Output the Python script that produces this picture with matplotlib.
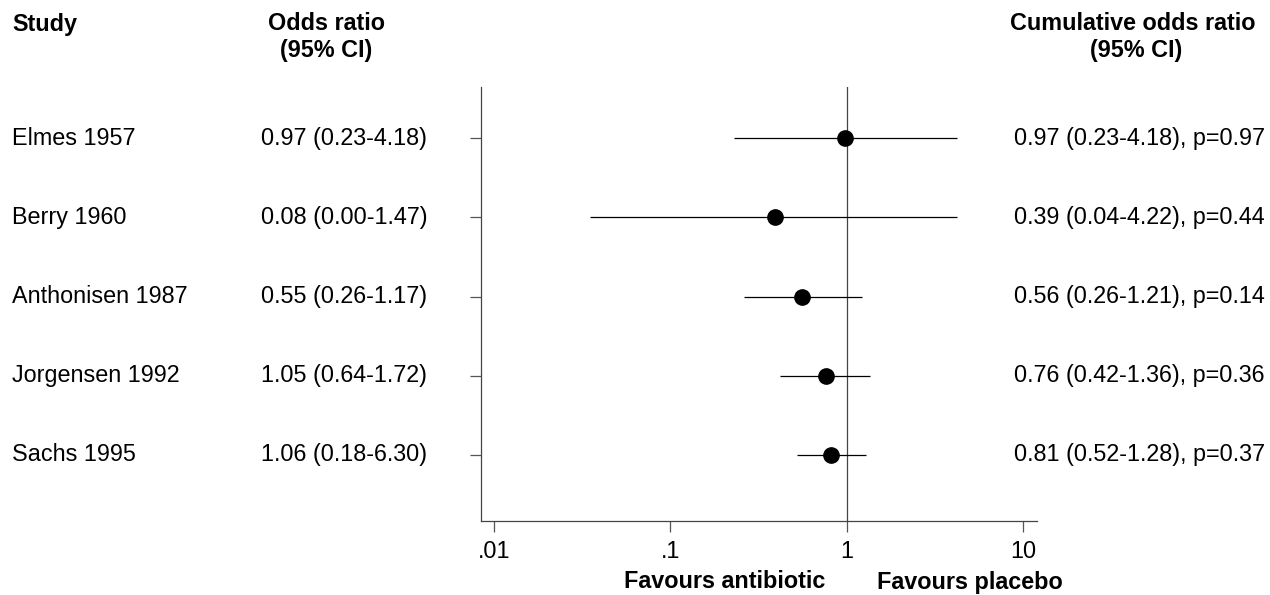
import numpy as np
import matplotlib.pyplot as plt

plt.rcParams['font.family'] = ['Liberation Sans', 'DejaVu Sans']

studies = ['Elmes 1957', 'Berry 1960', 'Anthonisen 1987', 'Jorgensen 1992', 'Sachs 1995']
study_or = ['0.97 (0.23-4.18)', '0.08 (0.00-1.47)', '0.55 (0.26-1.17)',
            '1.05 (0.64-1.72)', '1.06 (0.18-6.30)']
cum_text = ['0.97 (0.23-4.18), p=0.97', '0.39 (0.04-4.22), p=0.44',
            '0.56 (0.26-1.21), p=0.14', '0.76 (0.42-1.36), p=0.36',
            '0.81 (0.52-1.28), p=0.37']

# cumulative odds ratios as drawn
cum_or = [0.97, 0.39, 0.56, 0.76, 0.81]
cum_lo = [0.23, 0.035, 0.26, 0.42, 0.52]
cum_hi = [4.18, 4.22, 1.21, 1.36, 1.28]

xticks = [0.01, 0.1, 1, 10]
xtick_labels = ['.01', '.1', '1', '10']

fs = 16.8
W, H = 1270, 595

fig = plt.figure(figsize=(W / 100, H / 100), dpi=100)
ax = fig.add_axes([481 / W, 1 - 521 / H, (1037 - 481) / W, (521 - 87) / H])

rows = np.arange(1, len(studies) + 1)
ax.hlines(rows, cum_lo, cum_hi, color='black', lw=0.9)
ax.plot(cum_or, rows, 'o', color='black', ms=11, zorder=3)
ax.axvline(1, color='#444444', lw=0.9, zorder=1)

ax.set_xscale('log')
ax.set_xlim(10 ** -2.073, 10 ** 1.077)
ax.set_ylim(5.833, 0.356)
ax.set_xticks(xticks)
ax.set_xticklabels(xtick_labels, fontsize=fs)
ax.minorticks_off()
ax.set_yticks(rows)
ax.set_yticklabels([])
ax.tick_params(axis='both', length=8, width=0.9, color='#555555', pad=6)
for s in ['top', 'right']:
    ax.spines[s].set_visible(False)
for s in ['left', 'bottom']:
    ax.spines[s].set_color('#444444')
    ax.spines[s].set_linewidth(0.9)

def fy(py):
    return 1 - py / H

# headers
fig.text(12 / W, fy(24), 'Study', fontsize=fs, fontweight='bold', ha='left', va='center')
fig.text(326 / W, fy(24), 'Odds ratio', fontsize=fs, fontweight='bold', ha='center', va='center')
fig.text(326 / W, fy(51), '(95% CI)', fontsize=fs, fontweight='bold', ha='center', va='center')
fig.text(1133 / W, fy(24), 'Cumulative odds ratio', fontsize=fs, fontweight='bold', ha='center', va='center')
fig.text(1136 / W, fy(51), '(95% CI)', fontsize=fs, fontweight='bold', ha='center', va='center')

# row text, placed at the data rows
for r, name, o, c in zip(rows, studies, study_or, cum_text):
    ax.annotate(name, xy=(12 / W, r), xycoords=(fig.transFigure, 'data'),
                fontsize=fs, ha='left', va='center', annotation_clip=False)
    ax.annotate(o, xy=(261 / W, r), xycoords=(fig.transFigure, 'data'),
                fontsize=fs, ha='left', va='center', annotation_clip=False)
    ax.annotate(c, xy=(1139 / W, r), xycoords=(fig.transFigure, 'data'),
                fontsize=fs, ha='center', va='center', annotation_clip=False)

fig.text(825 / W, fy(582), 'Favours antibiotic', fontsize=fs, fontweight='bold', ha='right', va='center')
fig.text(877 / W, fy(582), 'Favours placebo', fontsize=fs, fontweight='bold', ha='left', va='center')

fig.savefig('out.png', dpi=100)
